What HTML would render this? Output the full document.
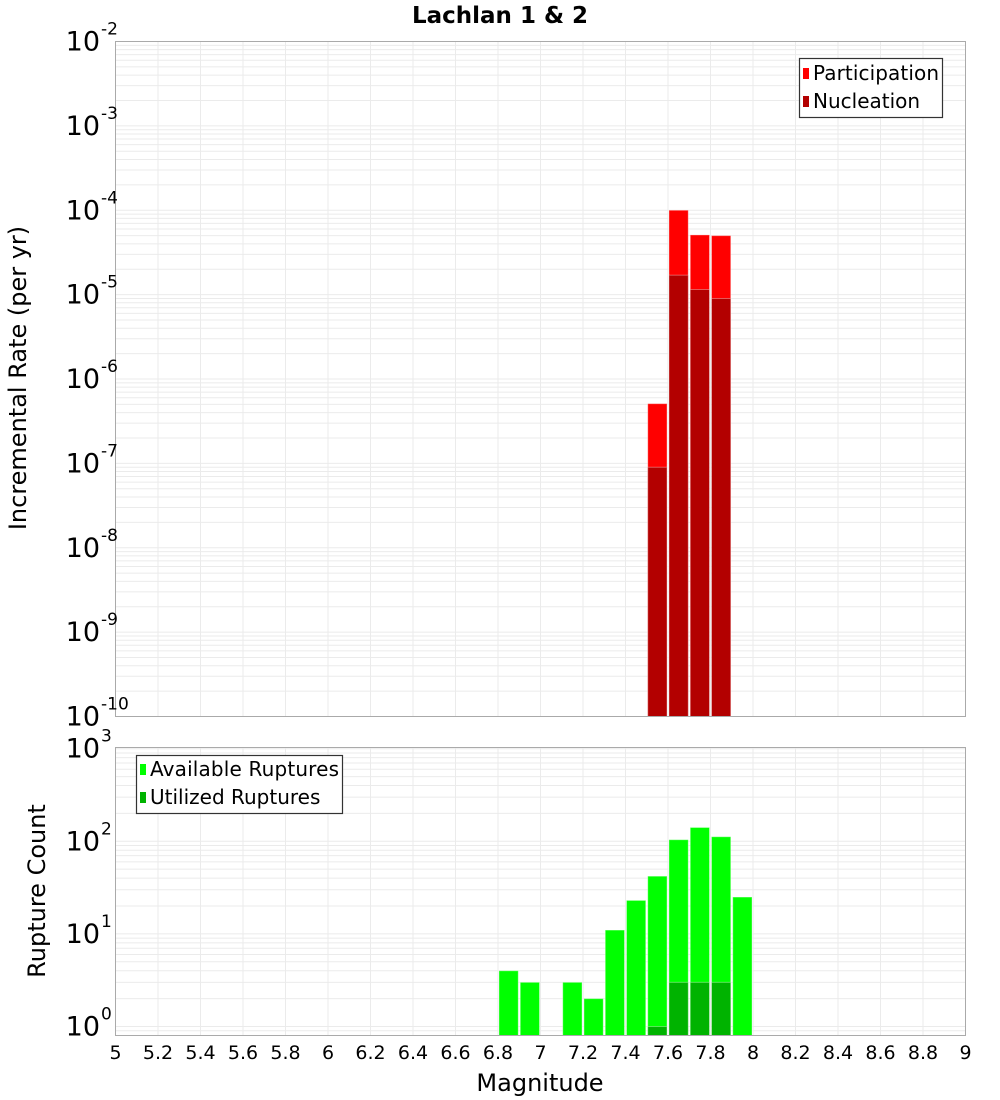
<!DOCTYPE html>
<html><head><meta charset="utf-8"><style>
html,body{margin:0;padding:0;background:#fff;}
svg{display:block;font-family:"DejaVu Sans","Liberation Sans",sans-serif;}
</style></head><body>
<svg id="chart" width="1000" height="1100" viewBox="0 0 1000 1100" xmlns="http://www.w3.org/2000/svg">
<text x="500" y="23" text-anchor="middle" font-size="23" font-weight="bold">Lachlan 1 &amp; 2</text>
<g id="topPanel"></g>
<g id="botPanel"></g>
<text transform="translate(26,378) rotate(-90)" text-anchor="middle" font-size="24">Incremental Rate (per yr)</text>
<text transform="translate(45,891) rotate(-90)" text-anchor="middle" font-size="24">Rupture Count</text>
<text x="540" y="1091" text-anchor="middle" font-size="24">Magnitude</text>
<g id="legTop">
<rect x="799.5" y="58.5" width="143" height="59" fill="#fff" stroke="#333" stroke-width="1.2"/>
<rect x="803" y="68" width="6" height="11" fill="#ff0000"/>
<text x="813" y="80" font-size="20" textLength="126">Participation</text>
<rect x="803" y="96" width="6" height="11" fill="#b30000"/>
<text x="813" y="108" font-size="20">Nucleation</text>
</g>
<g id="legBot">
<rect x="136.5" y="755.5" width="206" height="58" fill="#fff" stroke="#333" stroke-width="1.2"/>
<rect x="140" y="764" width="6" height="11" fill="#00ff00"/>
<text x="150" y="776" font-size="20" textLength="189">Available Ruptures</text>
<rect x="140" y="792" width="6" height="11" fill="#00b300"/>
<text x="150" y="804" font-size="20">Utilized Ruptures</text>
</g>
</svg>
<script>
const rateMags = [7.55, 7.65, 7.75, 7.85];
const participation = [5.1e-7, 1.0e-4, 5.1e-5, 5.0e-5];
const nucleation = [9e-8, 1.7e-5, 1.15e-5, 9e-6];
const countMags = [6.85, 6.95, 7.15, 7.25, 7.35, 7.45, 7.55, 7.65, 7.75, 7.85, 7.95];
const available = [4, 3, 3, 2, 11, 23, 42, 104, 141, 112, 25];
const utilMags = [7.55, 7.65, 7.75, 7.85];
const utilized = [1, 3, 3, 3];
const xTicks = [5,5.2,5.4,5.6,5.8,6,6.2,6.4,6.6,6.8,7,7.2,7.4,7.6,7.8,8,8.2,8.4,8.6,8.8,9];
const xTickLabels = ["5","5.2","5.4","5.6","5.8","6","6.2","6.4","6.6","6.8","7","7.2","7.4","7.6","7.8","8","8.2","8.4","8.6","8.8","9"];
const rateDecades = [-10,-9,-8,-7,-6,-5,-4,-3,-2];
const countDecades = [0,1,2,3];

const NS = "http://www.w3.org/2000/svg";
const X0 = 115.5, X1 = 965.5;
function xs(m){ return X0 + (m - 5) / 4 * (X1 - X0); }
const PT = {top:41.5, bot:716.5, lmin:-10, lmax:-2};
const PB = {top:747.5, bot:1035.5, lmin:-0.097, lmax:3.013};
function ys(p, v){ const l = Math.log10(v); return p.bot - (l - p.lmin) / (p.lmax - p.lmin) * (p.bot - p.top); }
function mk(parent, tag, attrs){ const e = document.createElementNS(NS, tag); for (const k in attrs) e.setAttribute(k, attrs[k]); parent.appendChild(e); return e; }

function panel(g, p, decades, mags, series, colors, names){
  mk(g, 'rect', {x:X0, y:p.top, width:X1-X0, height:p.bot-p.top, fill:'#fff'});
  xTicks.forEach(t => { mk(g,'line',{x1:xs(t),x2:xs(t),y1:p.top,y2:p.bot,stroke:'#ebebeb','stroke-width':1}); });
  for (let d = Math.floor(p.lmin); d <= Math.ceil(p.lmax); d++){
    for (let k = 1; k <= 9; k++){
      const v = k * Math.pow(10, d); const l = Math.log10(v);
      if (l < p.lmin - 1e-9 || l > p.lmax + 1e-9) continue;
      const y = ys(p, v);
      mk(g,'line',{x1:X0,x2:X1,y1:y,y2:y,stroke:'#ebebeb','stroke-width':1});
    }
  }
  series.forEach((vals, si) => {
    const ms = mags[si];
    vals.forEach((v, i) => {
      const xa = xs(ms[i] - 0.05), xb = xs(ms[i] + 0.05);
      const yt = ys(p, v);
      const r = mk(g,'rect',{x:xa+1, y:yt, width:xb-xa-2, height:p.bot-yt, fill:colors[si], stroke:'rgba(255,255,255,0.35)','stroke-width':1});
      
      
    });
  });
  mk(g, 'rect', {x:X0, y:p.top, width:X1-X0, height:p.bot-p.top, fill:'none', stroke:'#aaa', 'stroke-width':1});
  decades.forEach(d => {
    const y = ys(p, Math.pow(10, d));
    const t = mk(g,'text',{x:100, y:y+9, 'text-anchor':'end', 'font-size':27});
    t.textContent = '10';
    
    
    const s = mk(g,'text',{x:101, y:y-7, 'font-size':17});
    s.textContent = String(d);
    
    
  });
}

const topG = document.getElementById('topPanel');
const botG = document.getElementById('botPanel');
panel(topG, PT, rateDecades, [rateMags, rateMags], [participation, nucleation], ['#ff0000', '#b30000'], ['participation', 'nucleation']);
panel(botG, PB, countDecades, [countMags, utilMags], [available, utilized], ['#00ff00', '#00b300'], ['available', 'utilized']);

xTicks.forEach((t, i) => {
  const e = mk(botG,'text',{x:xs(t), y:1059, 'text-anchor':'middle', 'font-size':19});
  e.textContent = xTickLabels[i];
  
  
});
const svgEl = document.getElementById('chart');
svgEl.appendChild(document.getElementById('legTop'));
svgEl.appendChild(document.getElementById('legBot'));
</script>
</body></html>
